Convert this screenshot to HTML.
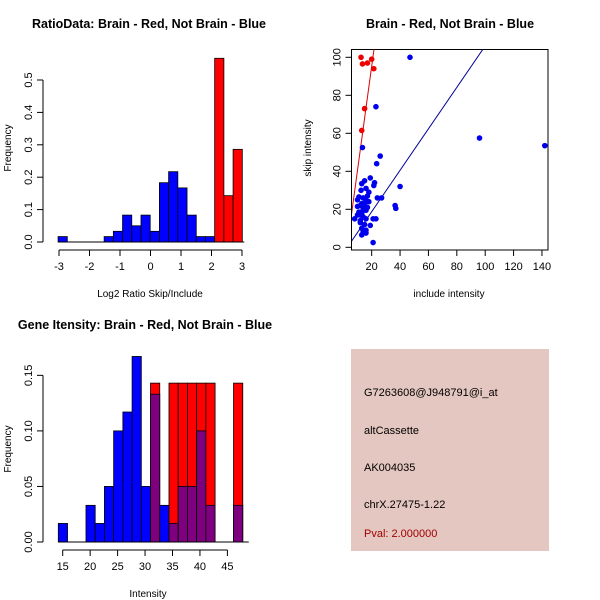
<!DOCTYPE html>
<html><head><meta charset="utf-8"><style>
body{margin:0;background:#fff}
svg{display:block;font-family:"Liberation Sans",sans-serif}
</style></head><body>
<svg id="c" width="600" height="600" xmlns="http://www.w3.org/2000/svg">
<text x="149" y="28" font-size="12.5" font-weight="bold" text-anchor="middle">RatioData: Brain - Red, Not Brain - Blue</text>
<text x="450" y="28" font-size="12.5" font-weight="bold" text-anchor="middle">Brain - Red, Not Brain - Blue</text>
<text x="145" y="329" font-size="12.5" font-weight="bold" text-anchor="middle">Gene Itensity: Brain - Red, Not Brain - Blue</text>
<g id="p1"></g>
<g id="p2"></g>
<g id="p3"></g>
<g>
<rect x="351" y="349" width="198" height="202" fill="#e5c7c1"/>
<text x="364" y="396" font-size="11">G7263608@J948791@i_at</text>
<text x="364" y="434" font-size="11">altCassette</text>
<text x="364" y="471" font-size="11">AK004035</text>
<text x="364" y="508" font-size="11">chrX.27475-1.22</text>
<text x="364" y="537" font-size="11" fill="#a00000">Pval: 2.000000</text>
</g>
</svg>
<script>
const NS="http://www.w3.org/2000/svg";
// ratio histogram data
const ratioBinStart=-3.03, ratioBinWidth=0.302;
const ratioBlue=[0.0167,0,0,0,0,0.0167,0.033,0.083,0.05,0.083,0.033,0.183,0.217,0.167,0.083,0.0167,0.0167,0,0,0];
const ratioRed=[0,0,0,0,0,0,0,0,0,0,0,0,0,0,0,0,0,0.567,0.143,0.286];
const ratioXTicks=[-3,-2,-1,0,1,2,3];
const ratioYTicks=[0,0.1,0.2,0.3,0.4,0.5];
// intensity histogram data
const intBinStart=14.2, intBinWidth=1.68;
const intBlue=[0.0167,0,0,0.033,0.0167,0.05,0.1,0.117,0.167,0.05,0.133,0.033,0.0167,0.05,0.05,0.1,0.033,0,0,0.033];
const intRed=[0,0,0,0,0,0,0,0,0,0,0.143,0,0.143,0.143,0.143,0.143,0.143,0,0,0.143];
const intXTicks=[15,20,25,30,35,40,45];
const intYTicks=[0,0.05,0.10,0.15];
// scatter data
const redX=[12.5,13.5,17,20,21.5,15,13];
const redY=[100,96.5,97,99,94,73,61.5];
const blueX=[47,23,13.5,96,142,26,23.5,40,36.5,37,24,27,21,19,22,21.5,15,13,16,12.5,18,17,14,11,10,16,18,13,15,12,10,17,14,16,11,13,12,10,8,14,16,21,23,12,15,19,13,16,14,16,13,12];
const blueY=[100,74,52.5,57.5,53.5,48,44,32,22,20.5,26,26,2.5,36.5,34,32.5,35,33.5,31,30,29,27,26,26.5,25,24.5,24,23,22.5,22,21.5,21,20,19.5,18.5,18,17,17,15,16,15,15,15,13,12,11.5,10,9,8,7.5,6.5,14];
const redLine=[-14.3,5.48]; // intercept, slope
const blueLine=[-3.1,1.091];
const scatXTicks=[20,40,60,80,100,120,140];
const scatYTicks=[0,20,40,60,80,100];

function el(parent,tag,attrs){const e=document.createElementNS(NS,tag);for(const k in attrs)e.setAttribute(k,attrs[k]);parent.appendChild(e);return e;}
function txt(parent,x,y,s,attrs){const t=el(parent,'text',Object.assign({x:x,y:y,'font-size':11,'text-anchor':'middle'},attrs||{}));t.textContent=s;return t;}

function axes(g,xs,ys,xt,yt,xfmt,yfmt,axisY,axisX,xlab,ylab,labX,labY){
  const xa=el(g,'g',{});
  
  
  el(xa,'line',{x1:xs(xt[0]),x2:xs(xt[xt.length-1]),y1:axisY,y2:axisY,stroke:'#000'});
  xt.forEach(v=>{el(xa,'line',{x1:xs(v),x2:xs(v),y1:axisY,y2:axisY+6,stroke:'#000'});txt(xa,xs(v),axisY+20,xfmt(v));});
  const ya=el(g,'g',{});
  
  
  el(ya,'line',{x1:axisX,x2:axisX,y1:ys(yt[0]),y2:ys(yt[yt.length-1]),stroke:'#000'});
  yt.forEach(v=>{el(ya,'line',{x1:axisX,x2:axisX-6,y1:ys(v),y2:ys(v),stroke:'#000'});txt(ya,axisX-11,ys(v),yfmt(v),{transform:`rotate(-90 ${axisX-11} ${ys(v)})`});});
  const xl=txt(g,labX[0],labX[1],xlab,{'font-size':10});
  
  
  const yl=txt(g,labY[0],labY[1],ylab,{'font-size':10,transform:`rotate(-90 ${labY[0]} ${labY[1]})`});
  
  
}

// Plot 1
(function(){
  const g=document.getElementById('p1');
  const xs=v=>59+(v+3)*30.5, ys=v=>242-v*324;
  for(let i=0;i<ratioBlue.length;i++){
    const x0=xs(ratioBinStart+i*ratioBinWidth),x1=xs(ratioBinStart+(i+1)*ratioBinWidth);
    if(ratioBlue[i]>0){
      const r=el(g,'rect',{x:x0,y:ys(ratioBlue[i]),width:x1-x0,height:ys(0)-ys(ratioBlue[i]),fill:'#0000ff',stroke:'#000','stroke-width':0.8});
      
      
    }
    if(ratioRed[i]>0){
      const r=el(g,'rect',{x:x0,y:ys(ratioRed[i]),width:x1-x0,height:ys(0)-ys(ratioRed[i]),fill:'#ff0000',stroke:'#000','stroke-width':0.8});
      
      
    }
  }
  el(g,'line',{x1:xs(ratioBinStart),x2:xs(ratioBinStart+20*ratioBinWidth)+2,y1:242,y2:242,stroke:'#000'});
  axes(g,xs,ys,ratioXTicks,ratioYTicks,v=>String(v),v=>v.toFixed(1),250,43,'Log2 Ratio Skip/Include','Frequency',[150,297],[11,148]);
})();

// Plot 3
(function(){
  const g=document.getElementById('p3');
  const xs=v=>62.7+(v-15)*5.49, ys=v=>542-v*1111;
  for(let i=0;i<intBlue.length;i++){
    const x0=xs(intBinStart+i*intBinWidth),x1=xs(intBinStart+(i+1)*intBinWidth);
    if(intRed[i]>0){
      const r=el(g,'rect',{x:x0,y:ys(intRed[i]),width:x1-x0,height:ys(0)-ys(intRed[i]),fill:'#ff0000',stroke:'#000','stroke-width':0.8});
      
      
    }
    if(intBlue[i]>0){
      const r=el(g,'rect',{x:x0,y:ys(intBlue[i]),width:x1-x0,height:ys(0)-ys(intBlue[i]),fill:intRed[i]>0?'#7f007f':'#0000ff',stroke:'#000','stroke-width':0.8});
      
      
    }
  }
  el(g,'line',{x1:xs(intBinStart),x2:xs(intBinStart+20*intBinWidth)+6,y1:542,y2:542,stroke:'#000'});
  axes(g,xs,ys,intXTicks,intYTicks,v=>String(v),v=>v.toFixed(2),550,43,'Intensity','Frequency',[148,597],[11,449]);
})();

// Plot 2
(function(){
  const g=document.getElementById('p2');
  const xs=v=>343.3+v*1.419, ys=v=>247.3-v*1.9;
  el(g,'rect',{x:351.5,y:49.5,width:196.5,height:200.5,fill:'none',stroke:'#000'});
  const cp=el(g,'clipPath',{id:'clp'});el(cp,'rect',{x:351.5,y:49.5,width:196.5,height:200.5});
  const lg=el(g,'g',{'clip-path':'url(#clp)'});
  [[redLine,'#dd0000','red-fit-line'],[blueLine,'#000099','blue-fit-line']].forEach(([l,c,n])=>{
    const a=0,b=150;
    const ln=el(lg,'line',{x1:xs(a),y1:ys(l[0]+l[1]*a),x2:xs(b),y2:ys(l[0]+l[1]*b),stroke:c,'stroke-width':1});
    
    
  });
  blueX.forEach((x,i)=>{const c=el(g,'circle',{cx:xs(x),cy:ys(blueY[i]),r:2.8,fill:'#0000ee'});
    
    });
  redX.forEach((x,i)=>{const c=el(g,'circle',{cx:xs(x),cy:ys(redY[i]),r:2.8,fill:'#ee0000'});
    
    });
  axes(g,xs,ys,scatXTicks,scatYTicks,v=>String(v),v=>String(v),250,351.5,'include intensity','skip intensity',[449,297],[311,148]);
})();
</script>
</body></html>
